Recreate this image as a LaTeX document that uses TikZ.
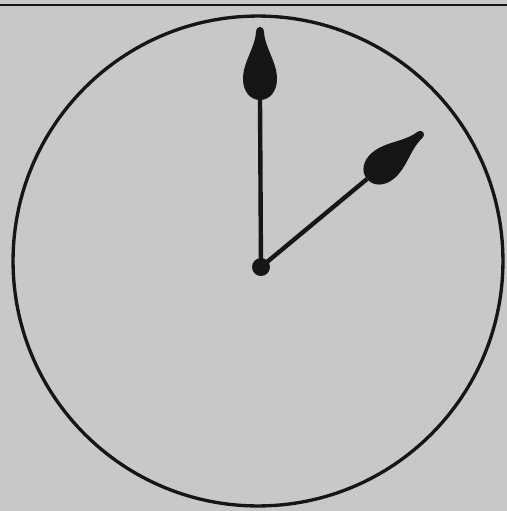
\documentclass[tikz,border=0pt]{standalone}
\usepackage{tikz}
\usetikzlibrary{calc}
\definecolor{scangray}{RGB}{200,200,198}
\definecolor{ink}{RGB}{22,22,22}

\tikzset{
  hub/.style={circle, fill=ink, draw=none, minimum size=0.36cm, inner sep=0pt},
  hand/.style={ink, line width=2.5pt},
  spade/.pic={
    \fill[ink] (0,0) .. controls (0,-10) and (9,-17) .. (21,-17)
      .. controls (38,-17) and (52,-5) .. (68,-4)
      .. controls (75,-3.5) and (75,3.5) .. (68,4)
      .. controls (52,5) and (38,17) .. (21,17)
      .. controls (9,17) and (0,10) .. (0,0) -- cycle;
  }
}

\begin{document}
\begin{tikzpicture}[x=0.02cm, y=-0.02cm]

% === Page / scan background ===
\fill[scangray] (0,0) rectangle (507,511);
\useasboundingbox (0,0) rectangle (507,511);

% === Rule at the top ===
\draw[ink, line width=1.3pt] (0,5) -- (507,5);

% === Clock face ===
\draw[ink, line width=1.9pt] (258,261) circle[radius=4.9cm];

% === Hands ===
\node[hub] (hub) at (261,267) {};
\coordinate (minbase) at (260,100);
\coordinate (hourbase) at (367,179);

\draw[hand] (hub.center) -- (minbase);
\draw[hand] (hub.center) -- (hourbase);

\pic[rotate=90] at (minbase) {spade};
\pic[rotate=39.8] at (hourbase) {spade};

\end{tikzpicture}
\end{document}
